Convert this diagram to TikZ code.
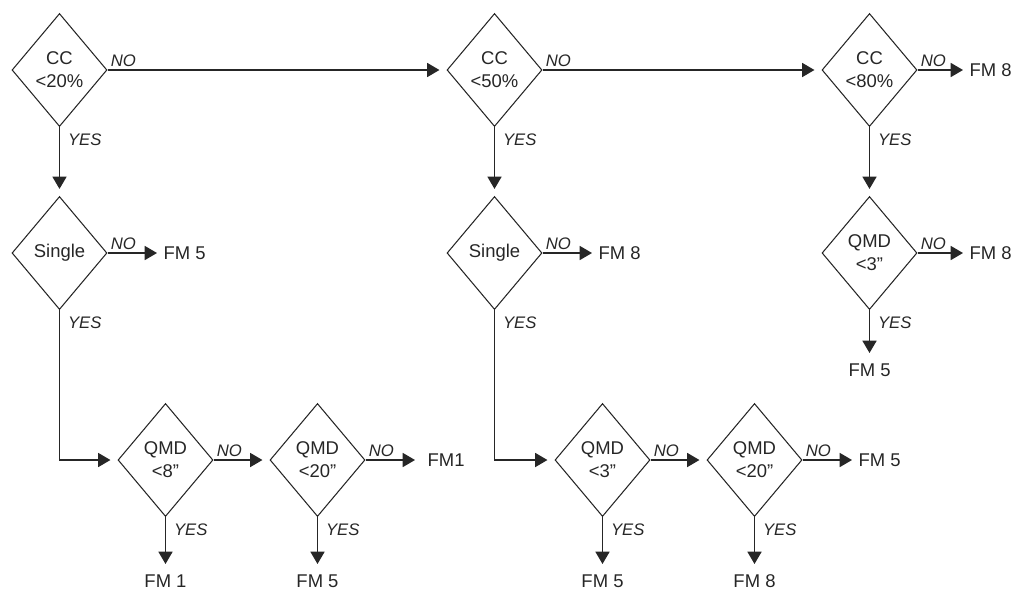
\documentclass[tikz,border=0pt]{standalone}
\usepackage{fontspec}
\setmainfont{Liberation Sans}
\usetikzlibrary{shapes.geometric,arrows.meta}
\begin{document}
\begin{tikzpicture}[
  every node/.style={font=\fontsize{10.5}{13}\selectfont,text=black!85},
  decision/.style={draw=black!85,line width=0.6pt,diamond,minimum width=1.9cm,minimum height=2.26cm,inner sep=0pt,align=center},
  outcome/.style={inner xsep=3.5pt,inner ysep=6pt},
  arr/.style={draw=black!85,line width=0.75pt,-{Triangle[length=7pt,width=8pt]}},
  tonext/.style={shorten >=4pt},
  nolbl/.style={font=\fontsize{9.5}{11}\itshape,anchor=south west,inner sep=1.5pt},
  yeslbl/.style={font=\fontsize{9.5}{11}\itshape,anchor=north west,inner sep=1.5pt,xshift=3pt,yshift=-2pt}]
  \useasboundingbox (0,0) rectangle (20.42,11.82);
  % first column: CC < 20%
  \node[decision] (cc20) at (1.19,10.42) {CC\\<20\%};
  \node[decision] (single1) at (1.19,6.76) {Single};
  \node[decision] (qmd8) at (3.31,2.62) {QMD\\<8”};
  \node[decision] (qmd20a) at (6.35,2.62) {QMD\\<20”};
  \node[outcome,anchor=west] (fm5a) at (3.14,6.76) {FM 5};
  \node[outcome,anchor=west,inner xsep=7pt] (fm1r) at (8.30,2.62) {FM1};
  \node[outcome,anchor=north] (fm1b) at (3.31,0.54) {FM 1};
  \node[outcome,anchor=north] (fm5c) at (6.35,0.54) {FM 5};
  \draw[arr,tonext] (cc20.south) -- (single1.north) node[pos=0,yeslbl] {YES};
  \draw[arr] (single1.east) -- (fm5a.west) node[pos=0,nolbl] {NO};
  \draw[arr,tonext] (single1.south) |- (qmd8.west) node[pos=0,yeslbl] {YES};
  \draw[arr,tonext] (qmd8.east) -- (qmd20a.west) node[pos=0,nolbl] {NO};
  \draw[arr] (qmd8.south) -- (fm1b.north) node[pos=0,yeslbl] {YES};
  \draw[arr] (qmd20a.east) -- (fm1r.west) node[pos=0,nolbl] {NO};
  \draw[arr] (qmd20a.south) -- (fm5c.north) node[pos=0,yeslbl] {YES};
  % second column: CC < 50%
  \node[decision] (cc50) at (9.89,10.42) {CC\\<50\%};
  \node[decision] (single2) at (9.89,6.76) {Single};
  \node[decision] (qmd3a) at (12.05,2.62) {QMD\\<3”};
  \node[decision] (qmd20b) at (15.09,2.62) {QMD\\<20”};
  \node[outcome,anchor=west] (fm8a) at (11.84,6.76) {FM 8};
  \node[outcome,anchor=west] (fm5b) at (17.04,2.62) {FM 5};
  \node[outcome,anchor=north] (fm5d) at (12.05,0.54) {FM 5};
  \node[outcome,anchor=north] (fm8d) at (15.09,0.54) {FM 8};
  \draw[arr,tonext] (cc20.east) -- (cc50.west) node[pos=0,nolbl] {NO};
  \draw[arr,tonext] (cc50.south) -- (single2.north) node[pos=0,yeslbl] {YES};
  \draw[arr] (single2.east) -- (fm8a.west) node[pos=0,nolbl] {NO};
  \draw[arr,tonext] (single2.south) |- (qmd3a.west) node[pos=0,yeslbl] {YES};
  \draw[arr,tonext] (qmd3a.east) -- (qmd20b.west) node[pos=0,nolbl] {NO};
  \draw[arr] (qmd3a.south) -- (fm5d.north) node[pos=0,yeslbl] {YES};
  \draw[arr] (qmd20b.east) -- (fm5b.west) node[pos=0,nolbl] {NO};
  \draw[arr] (qmd20b.south) -- (fm8d.north) node[pos=0,yeslbl] {YES};
  % third column: CC < 80%
  \node[decision] (cc80) at (17.39,10.42) {CC\\<80\%};
  \node[decision] (qmd3b) at (17.39,6.76) {QMD\\<3”};
  \node[outcome,anchor=west] (fm8b) at (19.26,10.42) {FM 8};
  \node[outcome,anchor=west] (fm8c) at (19.26,6.76) {FM 8};
  \node[outcome,anchor=north] (fm5e) at (17.39,4.76) {FM 5};
  \draw[arr,tonext] (cc50.east) -- (cc80.west) node[pos=0,nolbl] {NO};
  \draw[arr] (cc80.east) -- (fm8b.west) node[pos=0,nolbl] {NO};
  \draw[arr,tonext] (cc80.south) -- (qmd3b.north) node[pos=0,yeslbl] {YES};
  \draw[arr] (qmd3b.east) -- (fm8c.west) node[pos=0,nolbl] {NO};
  \draw[arr] (qmd3b.south) -- (fm5e.north) node[pos=0,yeslbl] {YES};
\end{tikzpicture}
\end{document}
